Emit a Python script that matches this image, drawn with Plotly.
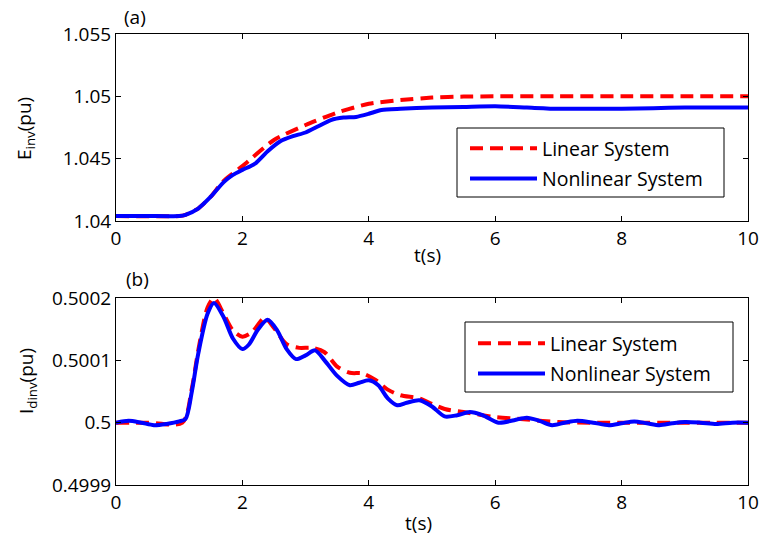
import plotly.graph_objects as go

# (a) inverter voltage E_inv (pu)
t_e_lin = [0, 1.0, 1.1, 1.3, 1.5, 1.7, 2.0, 2.5, 3.0, 3.5, 4.0, 4.5, 5.0, 5.5, 6.0, 7.0, 8.0, 9.0, 10.0]
e_lin = [1.0404, 1.0404, 1.0405, 1.0410, 1.04195, 1.0432, 1.0444, 1.0465, 1.0477, 1.0487,
         1.0494, 1.0497, 1.0499, 1.04998, 1.0500, 1.0500, 1.0500, 1.0500, 1.0500]

t_e_nl = [0, 0.5, 1.0, 1.1, 1.3, 1.5, 1.7, 1.85, 2.0, 2.2, 2.4, 2.6, 2.8, 3.0, 3.2, 3.4, 3.6,
          3.8, 4.0, 4.2, 4.5, 5.0, 5.5, 6.0, 6.5, 7.0, 7.5, 8.0, 8.5, 9.0, 9.5, 10.0]
e_nl = [1.0404, 1.0404, 1.0404, 1.0405, 1.0410, 1.04195, 1.0431, 1.0437, 1.0441, 1.0446,
        1.0456, 1.0464, 1.0468, 1.0471, 1.0476, 1.0481, 1.0483, 1.04835, 1.0486, 1.0489,
        1.0490, 1.0491, 1.04915, 1.0492, 1.0491, 1.0490, 1.0490, 1.0490, 1.04905, 1.0491,
        1.0491, 1.0491]

# (b) inverter d-axis current I_dinv (pu)
t_i_lin = [0, 0.5, 1.05, 1.2, 1.3, 1.45, 1.55, 1.7, 1.85, 2.0, 2.15, 2.35, 2.5, 2.7, 2.9, 3.1,
           3.3, 3.5, 3.7, 3.9, 4.1, 4.3, 4.5, 4.8, 5.0, 5.2, 5.5, 5.8, 6.0, 6.5, 7.0, 7.5,
           8.0, 9.0, 10.0]
i_lin = [0.500000, 0.500000, 0.500000, 0.5000550, 0.5001150, 0.5001850, 0.5002000, 0.5001750,
         0.5001480, 0.5001380, 0.5001450, 0.5001680, 0.5001520, 0.5001260, 0.5001200,
         0.5001200, 0.5001130, 0.5000900, 0.5000800, 0.5000790, 0.5000690, 0.5000530,
         0.5000440, 0.5000390, 0.5000300, 0.5000220, 0.5000170, 0.5000120, 0.5000090,
         0.5000050, 0.5000010, 0.500000, 0.500000, 0.500000, 0.500000]

t_i_nl = [0, 0.2, 0.4, 0.6, 0.8, 1.0, 1.1, 1.2, 1.3, 1.45, 1.55, 1.7, 1.85, 2.0, 2.1, 2.25,
          2.4, 2.55, 2.7, 2.85, 3.0, 3.15, 3.3, 3.5, 3.7, 3.85, 4.0, 4.15, 4.3, 4.45, 4.6,
          4.8, 5.0, 5.2, 5.4, 5.6, 5.8, 6.05, 6.3, 6.5, 6.7, 6.9, 7.1, 7.3, 7.55, 7.8, 8.0,
          8.2, 8.4, 8.6, 8.8, 9.0, 9.25, 9.5, 9.75, 10.0]
i_nl = [0.500000, 0.5000030, 0.500000, 0.4999960, 0.4999980, 0.5000020, 0.5000060,
        0.5000500, 0.5001100, 0.5001750, 0.5001920, 0.5001700, 0.5001350, 0.5001180,
        0.5001250, 0.5001500, 0.5001650, 0.5001480, 0.5001180, 0.5001020, 0.5001080,
        0.5001160, 0.5001000, 0.5000750, 0.5000600, 0.5000640, 0.5000680, 0.5000600,
        0.5000390, 0.5000280, 0.5000320, 0.5000360, 0.5000260, 0.5000100, 0.5000120,
        0.5000170, 0.5000120, 0.500000, 0.5000040, 0.5000080, 0.5000030, 0.4999960,
        0.500000, 0.5000030, 0.500000, 0.4999960, 0.4999990, 0.5000020, 0.4999990,
        0.4999960, 0.4999990, 0.5000010, 0.500000, 0.4999980, 0.500000, 0.500000]

x_ticks = [0, 2, 4, 6, 8, 10]
e_ticks = [1.04, 1.045, 1.05, 1.055]
e_tick_text = ["1.04", "1.045", "1.05", "1.055"]
i_ticks = [0.4999, 0.5, 0.5001, 0.5002]
i_tick_text = ["0.4999", "0.5", "0.5001", "0.5002"]
series_names = ["Linear System", "Nonlinear System"]

RED = "#ff0000"
BLUE = "#0000ff"
FONT = "Open Sans"
FS = 19
W, H = 759, 536

# plot-area bounds in pixels
PX_L, PX_R = 116, 748
TOP_A, BOT_A = 34, 221
TOP_B, BOT_B = 298, 485

# legend frames (left, top, right, bottom) in pixels
FRAME_A = (457, 128, 724, 197)
FRAME_B = (465, 322, 733, 392)


def px_x(p):
    return p / W


def py(p):
    return 1 - p / H


fig = go.Figure()

red_line = dict(color=RED, width=4, dash="13px,7px")
blue_line = dict(color=BLUE, width=4)

fig.add_trace(go.Scatter(x=t_e_lin, y=e_lin, mode="lines", name=series_names[0],
                         line=dict(**red_line, shape="spline", smoothing=0.6),
                         xaxis="x", yaxis="y", legend="legend", legendgroup="a1"))
fig.add_trace(go.Scatter(x=t_e_nl, y=e_nl, mode="lines", name=series_names[1],
                         line=dict(**blue_line, shape="spline", smoothing=0.6),
                         xaxis="x", yaxis="y", legend="legend", legendgroup="a2"))
fig.add_trace(go.Scatter(x=t_i_lin, y=i_lin, mode="lines", name=series_names[0],
                         line=dict(**red_line, shape="spline", smoothing=0.8),
                         xaxis="x2", yaxis="y2", legend="legend2", legendgroup="b1"))
fig.add_trace(go.Scatter(x=t_i_nl, y=i_nl, mode="lines", name=series_names[1],
                         line=dict(**blue_line, shape="spline", smoothing=0.8),
                         xaxis="x2", yaxis="y2", legend="legend2", legendgroup="b2"))

axis_common = dict(
    showline=True, linecolor="black", linewidth=1, mirror="ticks",
    ticks="inside", ticklen=5, tickwidth=1, tickcolor="black",
    showgrid=False, zeroline=False, automargin=False,
    tickfont=dict(family=FONT, size=FS, color="black"),
)

xdom = [px_x(PX_L), px_x(PX_R)]

legend_common = dict(xanchor="left", yanchor="top",
                     borderwidth=0, bgcolor="rgba(0,0,0,0)",
                     font=dict(family=FONT, size=19.5), itemwidth=67,
                     traceorder="grouped", tracegroupgap=2)

fig.update_layout(
    width=W, height=H,
    margin=dict(l=0, r=0, t=0, b=0),
    paper_bgcolor="white", plot_bgcolor="white",
    font=dict(family=FONT, size=FS, color="black"),
    xaxis=dict(domain=xdom, range=[0, 10], tickvals=x_ticks, anchor="y", **axis_common),
    yaxis=dict(domain=[py(BOT_A), py(TOP_A)], range=[1.04, 1.055], tickvals=e_ticks,
               ticktext=e_tick_text, anchor="x", **axis_common),
    xaxis2=dict(domain=xdom, range=[0, 10], tickvals=x_ticks, anchor="y2", **axis_common),
    yaxis2=dict(domain=[py(BOT_B), py(TOP_B)], range=[0.4999, 0.5002], tickvals=i_ticks,
                ticktext=i_tick_text, anchor="x2", **axis_common),
    legend=dict(x=px_x(FRAME_A[0] + 8), y=py(FRAME_A[1] + 1), **legend_common),
    legend2=dict(x=px_x(FRAME_B[0] + 8), y=py(FRAME_B[1] + 2), **legend_common),
    showlegend=True,
)

# legend frames
for l, t, r, b in (FRAME_A, FRAME_B):
    fig.add_shape(type="rect", xref="paper", yref="paper",
                  x0=px_x(l), x1=px_x(r), y0=py(b), y1=py(t),
                  line=dict(color="black", width=1), fillcolor="white", layer="above")

labels = [
    ("(a)", 135, 17, 0),
    ("(b)", 137, 279, 0),
    ("t(s)", 427, 255, 0),
    ("t(s)", 418, 523, 0),
    ("E<sub>inv</sub>(pu)", 25, 129, -90),
    ("I<sub>dinv</sub>(pu)", 27, 381, -90),
]
for txt, px, pyy, ang in labels:
    fig.add_annotation(text=txt, x=px_x(px), y=py(pyy), xref="paper", yref="paper",
                       showarrow=False, xanchor="center", yanchor="middle", textangle=ang,
                       font=dict(family=FONT, size=FS, color="black"))

fig.write_html("out.html")
